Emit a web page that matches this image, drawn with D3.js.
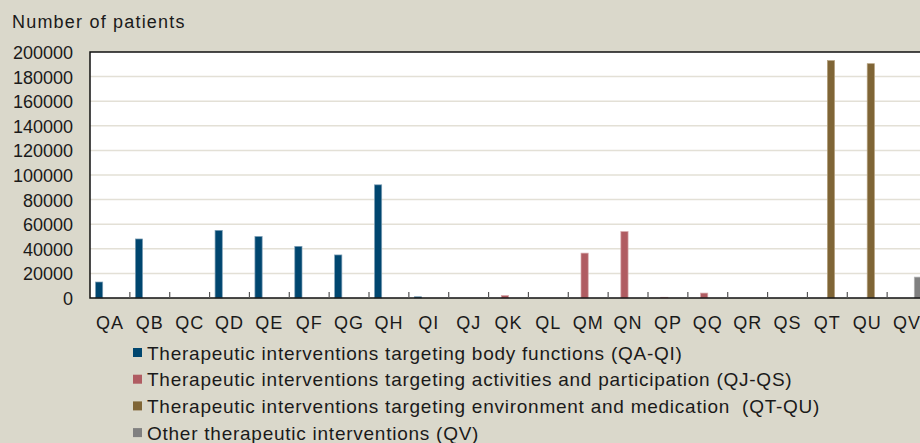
<!DOCTYPE html>
<html>
<head>
<meta charset="utf-8">
<script src="https://cdn.jsdelivr.net/npm/d3@7/dist/d3.min.js"></script>
<style>
  body { margin: 0; background: #dad8cb; }
  svg { display: block; }
  text { font-family: "Liberation Sans", Arial, sans-serif; fill: #1a1a1a; }
  .legend text { white-space: pre; }
</style>
</head>
<body>
<script>

// categories along the x axis (there is no QO)
var categories = ["QA","QB","QC","QD","QE","QF","QG","QH","QI",
                  "QJ","QK","QL","QM","QN","QP","QQ","QR","QS",
                  "QT","QU","QV"];

var seriesNames = [
  "Therapeutic interventions targeting body functions (QA-QI)",
  "Therapeutic interventions targeting activities and participation (QJ-QS)",
  "Therapeutic interventions targeting environment and medication  (QT-QU)",
  "Other therapeutic interventions (QV)"
];

var seriesColors = ["#00466f", "#b05c62", "#7f6536", "#808080"];
var seriesEdges  = ["#7d9fb6", "#d7a9ac", "#b5a27f", "#b3b3b3"];

// values per category, same order as categories
var bodyFunctions = [13000, 48000, 0, 55000, 50000, 42000, 35000, 92000, 1000,
                     0,0,0,0,0,0,0,0,0, 0,0, 0];
var activities    = [0,0,0,0,0,0,0,0,0,
                     0, 2000, 0, 36500, 54000, 600, 4000, 0, 0, 0,0, 0];
var environment   = [0,0,0,0,0,0,0,0,0, 0,0,0,0,0,0,0,0,0,
                     193000, 190500, 0];
var other         = [0,0,0,0,0,0,0,0,0, 0,0,0,0,0,0,0,0,0, 0,0,
                     17000];

var yTicks = d3.range(0, 200001, 20000);

var width = 920, height = 443;
var plotLeft = 90, plotRight = 927, plotTop = 52, plotBottom = 298;

var allSeries = [bodyFunctions, activities, environment, other];

var svg = d3.select("body").append("svg")
    .attr("width", width)
    .attr("height", height);

var x = d3.scaleBand().domain(categories).range([plotLeft, plotRight]);
var bw = x.bandwidth();
var x1 = d3.scaleBand().domain(d3.range(4)).range([5.5, bw - 5.5]);
var y = d3.scaleLinear().domain([0, 200000]).range([plotBottom, plotTop]);

// plot area
svg.append("rect")
    .attr("x", plotLeft).attr("y", plotTop)
    .attr("width", plotRight - plotLeft).attr("height", plotBottom - plotTop)
    .attr("fill", "#fff");

// gridlines
svg.append("g").selectAll("line")
  .data(yTicks.filter(function(d){ return d > 0 && d < 200000; }))
  .enter().append("line")
    .attr("x1", plotLeft).attr("x2", plotRight)
    .attr("y1", function(d){ return y(d); })
    .attr("y2", function(d){ return y(d); })
    .attr("stroke", "#e3e0d6")
    .attr("stroke-width", 1.5);

// bars
var rows = [];
allSeries.forEach(function(vals, s) {
  vals.forEach(function(v, i) {
    if (v > 0) rows.push({cat: categories[i], s: s, v: v});
  });
});

svg.append("g").selectAll("rect")
  .data(rows).enter().append("rect")
    .attr("x", function(d){ return x(d.cat) + x1(d.s); })
    .attr("y", function(d){ return y(d.v); })
    .attr("width", x1.bandwidth())
    .attr("height", function(d){ return plotBottom - y(d.v); })
    .attr("fill", function(d){ return seriesColors[d.s]; })
    .attr("stroke", function(d){ return seriesEdges[d.s]; })
    .attr("stroke-width", 0.7);

// plot border (left, top, bottom)
svg.append("path")
    .attr("d", "M" + plotRight + "," + plotTop + "H" + plotLeft + "V" + plotBottom + "H" + plotRight)
    .attr("fill", "none")
    .attr("stroke", "#111")
    .attr("stroke-width", 1.5);

// x ticks, pointing up into the plot
svg.append("g").selectAll("line")
  .data(categories.slice(1))
  .enter().append("line")
    .attr("x1", function(d){ return x(d); })
    .attr("x2", function(d){ return x(d); })
    .attr("y1", plotBottom).attr("y2", plotBottom - 6)
    .attr("stroke", "#555")
    .attr("stroke-width", 1.2);

// x labels
svg.append("g").selectAll("text")
  .data(categories).enter().append("text")
    .attr("x", function(d){ return x(d) + bw / 2; })
    .attr("y", plotBottom + 31)
    .attr("text-anchor", "middle")
    .style("font-size", "18px")
    .style("letter-spacing", "1px")
    .text(function(d){ return d; });

// y labels
svg.append("g").selectAll("text")
  .data(yTicks).enter().append("text")
    .attr("x", 73)
    .attr("y", function(d){ return y(d) + 7; })
    .attr("text-anchor", "end")
    .style("font-size", "18px")
    .text(function(d){ return d; });

svg.append("text")
    .attr("x", 12).attr("y", 28)
    .style("font-size", "18px")
    .style("letter-spacing", "1.2px")
    .text("Number of patients");

// legend
var legend = svg.append("g").attr("class", "legend")
  .selectAll("g").data(seriesNames).enter().append("g")
    .attr("transform", function(d, i){ return "translate(133," + (353 + i * 26.7) + ")"; });

legend.append("rect")
    .attr("x", 0).attr("y", -5)
    .attr("width", 9).attr("height", 9)
    .attr("fill", function(d, i){ return seriesColors[i]; });

legend.append("text")
    .attr("x", 14).attr("y", 6.5)
    .style("font-size", "19px")
    .style("letter-spacing", "0.75px")
    .text(function(d){ return d; });

</script>
</body>
</html>
